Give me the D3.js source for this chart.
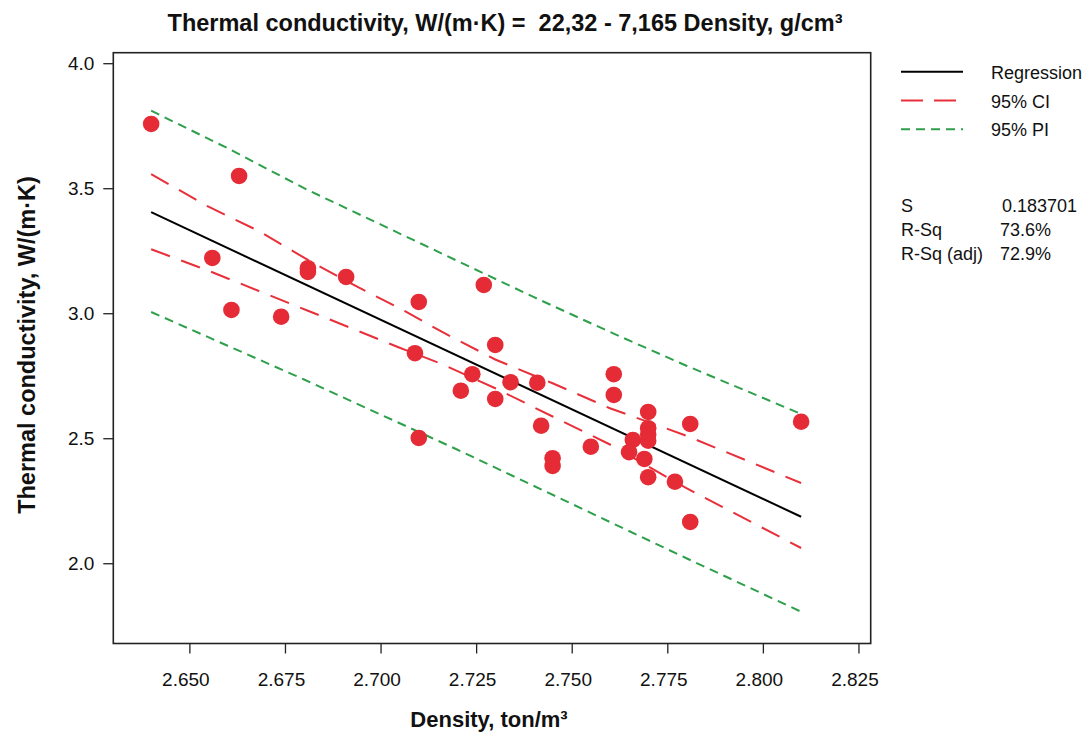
<!DOCTYPE html>
<html>
<head>
<meta charset="utf-8">
<script src="https://cdn.jsdelivr.net/npm/d3@7"></script>
<style>
  body { margin: 0; background: #fff; }
  text { font-family: "Liberation Sans", Arial, sans-serif; fill: #111; }
</style>
</head>
<body>
<div id="chart"></div>
<script>
(function(){
	var width = 1086;
	var height = 732;

	// observed points
	var density = [2.640, 2.663, 2.656, 2.661, 2.674, 2.681, 2.681, 2.691, 2.710, 2.709,
		2.710, 2.727, 2.721, 2.724, 2.730, 2.730, 2.734, 2.741, 2.742, 2.745,
		2.745, 2.755, 2.761, 2.761, 2.770, 2.770, 2.770, 2.770, 2.766, 2.765,
		2.769, 2.770, 2.777, 2.781, 2.810, 2.781];
	var conductivity = [3.757, 3.549, 3.221, 3.013, 2.986, 3.180, 3.165, 3.145, 3.045, 2.840,
		2.501, 3.113, 2.690, 2.756, 2.873, 2.657, 2.724, 2.722, 2.550, 2.420,
		2.389, 2.466, 2.756, 2.673, 2.605, 2.540, 2.515, 2.490, 2.493, 2.444,
		2.417, 2.344, 2.326, 2.557, 2.566, 2.165];

	// fitted line and bands
	var regX = [2.640, 2.810];
	var regY = [3.404, 2.186];
	var ciX = [2.640, 2.655, 2.668, 2.681, 2.694, 2.705, 2.716, 2.730, 2.745, 2.760, 2.780, 2.810];
	var ciUpper = [3.556, 3.426, 3.330, 3.213, 3.105, 3.020, 2.926, 2.815, 2.720, 2.620, 2.510, 2.321];
	var ciLower = [3.256, 3.170, 3.090, 3.010, 2.930, 2.862, 2.797, 2.700, 2.587, 2.475, 2.300, 2.061];
	var piX = [2.640, 2.660, 2.680, 2.700, 2.720, 2.740, 2.760, 2.780, 2.810];
	var piUpper = [3.810, 3.660, 3.500, 3.355, 3.210, 3.065, 2.925, 2.790, 2.597];
	var piLower = [3.005, 2.870, 2.735, 2.595, 2.455, 2.310, 2.165, 2.020, 1.806];

	var xTicks = [2.650, 2.675, 2.700, 2.725, 2.750, 2.775, 2.800, 2.825];
	var yTicks = [2.0, 2.5, 3.0, 3.5, 4.0];

	var legendNames = ["Regression", "95% CI", "95% PI"];
	var statNames = ["S", "R-Sq", "R-Sq (adj)"];
	var statValues = ["0.183701", "73.6%", "72.9%"];

	var left = 113.3, right = 870.7, top = 52.7, bottom = 643.5;

	var x = d3.scaleLinear().domain([2.6301, 2.8282]).range([left, right]);
	var y = d3.scaleLinear().domain([1.679, 4.042]).range([bottom, top]);

	var svg = d3.select('#chart').append('svg')
		.attr('width', width)
		.attr('height', height);

	// axes
	var yAxis = d3.axisLeft(y).tickValues(yTicks).tickSize(10).tickPadding(9)
		.tickFormat(d3.format('.1f'));
	var gy = svg.append('g').attr('transform', 'translate(' + left + ',0)').call(yAxis);
	gy.select('.domain').remove();
	gy.selectAll('text').style('font-size', '19px').style('font-family', '"Liberation Sans", Arial, sans-serif').attr('fill', '#111');
	gy.selectAll('line').attr('stroke', '#222').attr('stroke-width', 1.3);

	var xAxis = d3.axisBottom(x).tickValues(xTicks).tickSize(10).tickPadding(21)
		.tickFormat(d3.format('.3f'));
	var gx = svg.append('g').attr('transform', 'translate(0,' + bottom + ')').call(xAxis);
	gx.select('.domain').remove();
	gx.selectAll('text').style('font-size', '19px').style('font-family', '"Liberation Sans", Arial, sans-serif')
		.attr('fill', '#111').attr('dx', -4).attr('dy', '0.6em');
	gx.selectAll('line').attr('stroke', '#222').attr('stroke-width', 1.3);

	// frame
	svg.append('rect')
		.attr('x', left).attr('y', top)
		.attr('width', right - left).attr('height', bottom - top)
		.attr('fill', 'none')
		.attr('stroke', '#222')
		.attr('stroke-width', 1.6);

	var line = d3.line()
		.x(function(d){ return x(d[0]); })
		.y(function(d){ return y(d[1]); });

	var plot = svg.append('g');

	function band(xs, ys, color, dash){
		plot.append('path')
			.attr('d', line(d3.zip(xs, ys)))
			.attr('fill', 'none')
			.attr('stroke', color)
			.attr('stroke-width', 2)
			.attr('stroke-dasharray', dash);
	}

	band(piX, piUpper, '#2ea04b', '9,6');
	band(piX, piLower, '#2ea04b', '9,6');
	band(ciX, ciUpper, '#e8303a', '20,12');
	band(ciX, ciLower, '#e8303a', '20,12');
	band(regX, regY, '#000', null);

	plot.selectAll('circle')
		.data(d3.zip(density, conductivity))
		.enter()
		.append('circle')
		.attr('cx', function(d){ return x(d[0]); })
		.attr('cy', function(d){ return y(d[1]); })
		.attr('r', 8.3)
		.attr('fill', '#e52b35');

	// title
	svg.append('text')
		.attr('x', 505).attr('y', 31)
		.attr('text-anchor', 'middle')
		.style('font-size', '23.5px')
		.style('font-weight', 'bold')
		.style('white-space', 'pre')
		.text('Thermal conductivity, W/(m\u00b7K) =  22,32 - 7,165 Density, g/cm\u00b3');

	svg.append('text')
		.attr('x', 489).attr('y', 727)
		.attr('text-anchor', 'middle')
		.style('font-size', '22px')
		.style('font-weight', 'bold')
		.text('Density, ton/m\u00b3');

	svg.append('text')
		.attr('transform', 'translate(35,345) rotate(-90)')
		.attr('text-anchor', 'middle')
		.style('font-size', '23.5px')
		.style('font-weight', 'bold')
		.text('Thermal conductivity, W/(m\u00b7K)');

	// legend
	var legendStyle = [
		{color: '#000', dash: null},
		{color: '#e8303a', dash: '22,11'},
		{color: '#2ea04b', dash: '9,6'}
	];
	var lg = svg.append('g').selectAll('g')
		.data(legendNames)
		.enter()
		.append('g')
		.attr('transform', function(d, i){ return 'translate(0,' + (71.7 + i * 28.8) + ')'; });
	lg.append('line')
		.attr('x1', 901).attr('x2', 963)
		.attr('stroke', function(d, i){ return legendStyle[i].color; })
		.attr('stroke-width', 2)
		.attr('stroke-dasharray', function(d, i){ return legendStyle[i].dash; });
	lg.append('text')
		.attr('x', 991).attr('y', 7)
		.style('font-size', '18px')
		.text(function(d){ return d; });

	// stats
	var st = svg.append('g').selectAll('g')
		.data(statNames)
		.enter()
		.append('g')
		.attr('transform', function(d, i){ return 'translate(0,' + (212 + i * 24) + ')'; });
	st.append('text')
		.attr('x', 901)
		.style('font-size', '18px')
		.text(function(d){ return d; });
	st.append('text')
		.attr('x', function(d, i){ return i === 0 ? 1002 : 1000; })
		.style('font-size', '18px')
		.text(function(d, i){ return statValues[i]; });
})();
</script>
</body>
</html>
